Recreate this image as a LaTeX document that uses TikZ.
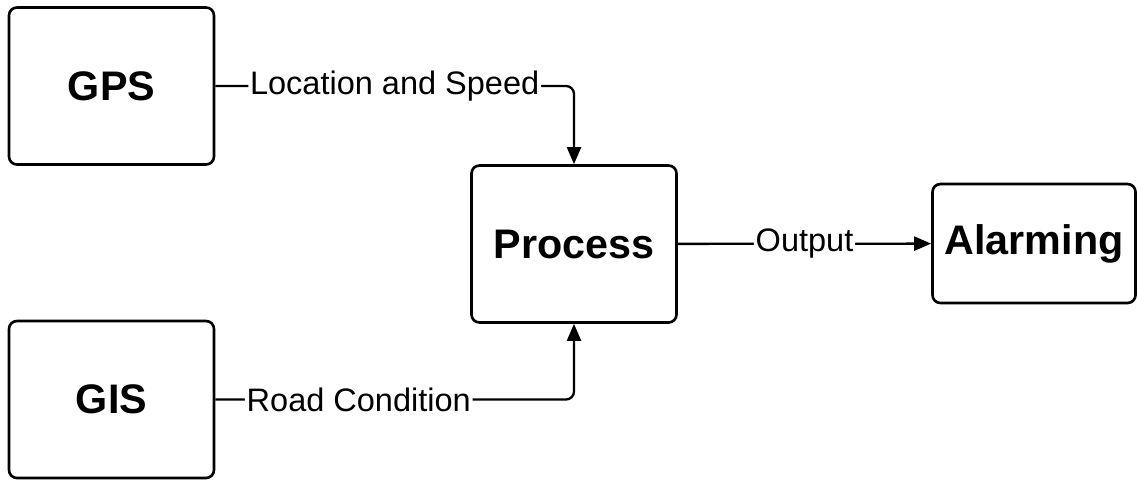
\documentclass[tikz,border=0pt]{standalone}
\usepackage{fontspec}
\setmainfont{Liberation Sans}
\usetikzlibrary{arrows.meta}

\begin{document}
\begin{tikzpicture}[
		block/.style={draw, line width=1.5pt, rounded corners=1.6mm, minimum width=4.1cm, minimum height=3.14cm, font=\fontsize{23.5}{26}\selectfont\bfseries},
		link/.style={line width=1.3pt, rounded corners=1.6mm, -{Triangle[length=0.34cm,width=0.28cm]}},
		tag/.style={fill=white, inner sep=1pt, font=\fontsize{18.5}{21}\selectfont}
	]
	\useasboundingbox (0,0) rectangle (22.74,-9.58);

	\node[block] (gps) at (2.23,-1.72) {GPS};
	\node[block] (gis) at (2.23,-7.99) {GIS};
	\node[block] (proc) at (11.48,-4.88) {Process};
	\node[block, minimum width=4.06cm, minimum height=2.38cm] (alarm) at (20.68,-4.87) {Alarming};

	\draw[link] (gps) -| node[tag, pos=0.25] {Location and Speed} (proc);
	\draw[link] (gis) -| node[tag, pos=0.2] {Road Condition} (proc);
	\draw[link] (proc) -- node[tag] {Output} (alarm);
\end{tikzpicture}
\end{document}
